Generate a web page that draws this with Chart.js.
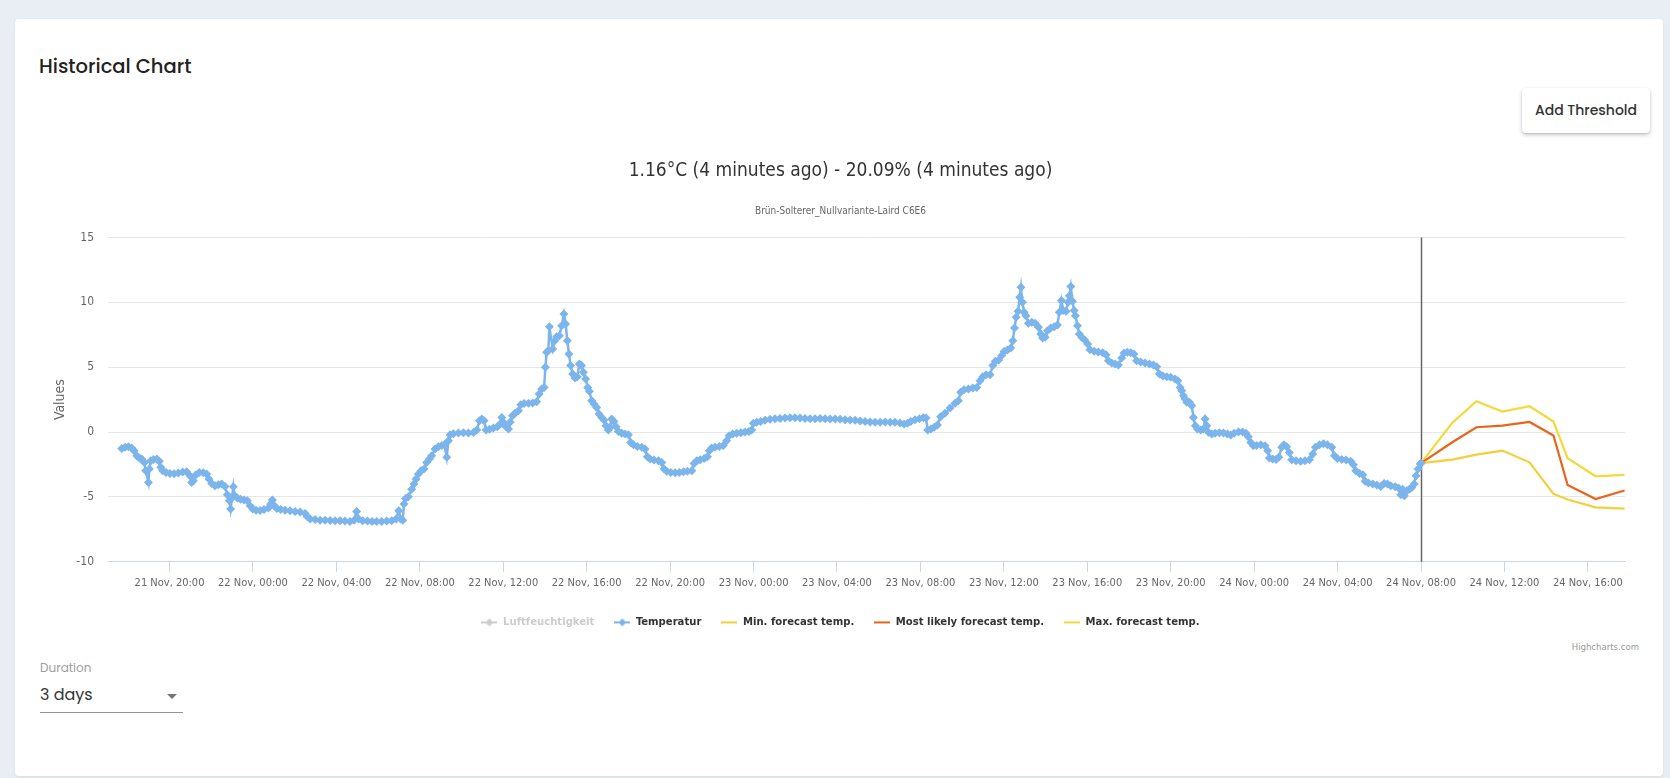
<!DOCTYPE html>
<html>
<head>
<meta charset="utf-8">
<title>Historical Chart</title>
<script src="https://cdn.jsdelivr.net/npm/chart.js@4.4.1/dist/chart.umd.min.js"></script>
<style>
    html, body { margin: 0; padding: 0; }
    body {
        width: 1670px; height: 778px; overflow: hidden; position: relative;
        background: #e8eef3;
        font-family: 'Poppins', 'Open Sans', sans-serif;
    }
    .card {
        position: absolute; left: 15px; top: 19px; width: 1648px; height: 757px;
        background: #fff; border-radius: 4px;
        box-shadow: 0 1px 3px rgba(0, 0, 0, 0.08);
    }
    .card h2 {
        position: absolute; left: 24px; top: 34px; margin: 0;
        font-size: 19.5px; font-weight: 500; color: #222; line-height: 28px;
    }
    .btn {
        position: absolute; left: 1507px; top: 69px; width: 128px; height: 45px;
        background: #fff; border: none; border-radius: 4px;
        box-shadow: 0 2px 4px rgba(0, 0, 0, 0.2), 0 1px 2px rgba(0, 0, 0, 0.1);
        font-family: inherit; font-size: 14px; font-weight: 500; color: #333;
    }
    .chart-box { position: absolute; left: 29px; top: 126px; width: 1604px; height: 493px; }
    .credits {
        position: absolute; right: 24px; top: 622px;
        font-family: 'DejaVu Sans Condensed', sans-serif;
        font-size: 9.5px; color: #999;
    }
    .duration { position: absolute; left: 25px; top: 640px; width: 143px; }
    .duration label { display: block; font-size: 12px; color: #9e9e9e; line-height: 18px; }
    .duration .select {
        position: relative; margin-top: 5px; height: 30px; border-bottom: 1px solid #949494;
        font-size: 16px; color: #333; line-height: 26px;
    }
    .duration .arrow {
        position: absolute; right: 6px; top: 12px; width: 0; height: 0;
        border-left: 5px solid transparent; border-right: 5px solid transparent; border-top: 5px solid #757575;
    }
</style>
</head>
<body>
<div class="card">
    <h2>Historical Chart</h2>
    <button class="btn">Add Threshold</button>
    <div class="chart-box"><canvas id="historyChart"></canvas></div>
    <div class="credits">Highcharts.com</div>
    <div class="duration">
        <label>Duration</label>
        <div class="select">3 days<span class="arrow"></span></div>
    </div>
</div>
<script>
// hours counted from 21 Nov 00:00
const tempHours = [
    17.71, 17.87, 18.03, 18.19, 18.30, 18.43, 18.55, 18.67, 18.79, 18.86,
    18.99, 19.03, 19.10, 19.23, 19.39, 19.51, 19.58, 19.67, 19.83, 20.02,
    20.22, 20.42, 20.63, 20.82, 20.98, 21.06, 21.14, 21.27, 21.43, 21.62,
    21.78, 21.89, 22.02, 22.18, 22.34, 22.50, 22.66, 22.77, 22.87, 22.93,
    23.00, 23.06, 23.12, 23.25, 23.41, 23.57, 23.73, 23.86, 23.99, 24.15,
    24.34, 24.53, 24.74, 24.85, 24.93, 25.03, 25.14, 25.33, 25.54, 25.78,
    26.02, 26.26, 26.50, 26.61, 26.74, 26.98, 27.22, 27.46, 27.70, 27.94,
    28.18, 28.41, 28.65, 28.85, 28.97, 29.07, 29.26, 29.49, 29.71, 29.93,
    30.17, 30.41, 30.65, 30.86, 30.99, 31.08, 31.18, 31.24, 31.32, 31.45,
    31.61, 31.72, 31.82, 31.93, 32.06, 32.20, 32.33, 32.46, 32.57, 32.73,
    32.89, 33.05, 33.18, 33.29, 33.37, 33.45, 33.61, 33.85, 34.09, 34.33,
    34.57, 34.73, 34.86, 34.97, 35.08, 35.18, 35.34, 35.53, 35.72, 35.85,
    35.93, 36.01, 36.13, 36.25, 36.33, 36.44, 36.57, 36.73, 36.84, 37.00,
    37.21, 37.41, 37.60, 37.72, 37.84, 37.96, 38.02, 38.08, 38.16, 38.21,
    38.37, 38.47, 38.56, 38.69, 38.80, 38.91, 38.99, 39.07, 39.15, 39.23,
    39.33, 39.44, 39.55, 39.65, 39.75, 39.84, 39.95, 40.05, 40.13, 40.24,
    40.35, 40.48, 40.59, 40.72, 40.83, 40.93, 41.04, 41.12, 41.20, 41.31,
    41.41, 41.52, 41.68, 41.84, 42.00, 42.11, 42.24, 42.43, 42.64, 42.80,
    42.91, 43.04, 43.23, 43.44, 43.60, 43.71, 43.84, 44.03, 44.24, 44.44,
    44.64, 44.83, 45.04, 45.15, 45.28, 45.44, 45.63, 45.79, 45.88, 45.99,
    46.15, 46.36, 46.55, 46.71, 46.83, 47.00, 47.19, 47.39, 47.59, 47.78,
    47.91, 47.99, 48.15, 48.34, 48.55, 48.79, 49.03, 49.27, 49.51, 49.75,
    49.99, 50.23, 50.47, 50.71, 50.95, 51.19, 51.43, 51.67, 51.91, 52.15,
    52.39, 52.63, 52.87, 53.11, 53.35, 53.59, 53.83, 54.07, 54.31, 54.55,
    54.78, 55.02, 55.22, 55.38, 55.54, 55.74, 55.95, 56.14, 56.27, 56.35,
    56.50, 56.66, 56.82, 56.97, 57.18, 57.42, 57.66, 57.82, 57.93, 58.09,
    58.30, 58.51, 58.70, 58.86, 58.99, 59.15,
    59.34, 59.47, 59.59, 59.75, 59.90, 60.01, 60.17, 60.33, 60.43, 60.51,
    60.59, 60.68, 60.76, 60.82, 60.89, 60.97, 61.06, 61.18, 61.34, 61.50,
    61.66, 61.77, 61.86, 61.98, 62.09, 62.25, 62.41, 62.57, 62.66, 62.76,
    62.85, 62.98, 63.08, 63.14, 63.21, 63.29, 63.37, 63.43, 63.53, 63.62,
    63.73, 63.88, 64.02, 64.13, 64.33, 64.53, 64.74, 64.90, 65.01, 65.17,
    65.33, 65.49, 65.65, 65.76, 65.92, 66.08, 66.24, 66.37, 66.56, 66.77,
    66.98, 67.17, 67.33, 67.46, 67.62, 67.81, 68.00, 68.21, 68.34, 68.45,
    68.53, 68.61, 68.69, 68.77, 68.90, 69.01, 69.09, 69.18, 69.28, 69.44,
    69.57, 69.65, 69.73, 69.82, 69.97, 70.13, 70.33, 70.53, 70.72, 70.88,
    71.04, 71.25, 71.45, 71.61, 71.72, 71.84, 71.96, 72.12, 72.32, 72.52,
    72.65, 72.73, 72.89, 73.05, 73.18, 73.32, 73.43, 73.56, 73.69, 73.80,
    74.01, 74.23, 74.44, 74.65, 74.81, 74.94, 75.13, 75.32, 75.51, 75.72,
    75.85, 75.99, 76.20, 76.41, 76.63, 76.76, 76.87, 77.05, 77.21, 77.32,
    77.48, 77.69, 77.88, 78.07, 78.23, 78.39, 78.55, 78.76, 78.92, 79.03,
    79.12, 79.20, 79.32, 79.44, 79.56, 79.67, 79.76, 79.86, 79.96, 80.00
];
const tempValues = [
    -1.26, -1.18, -1.13, -1.23, -1.44, -1.83, -2.00, -2.08, -2.34, -2.98,
    -3.88, -2.85, -2.21, -2.11, -2.08, -2.26, -2.72, -2.98, -3.11, -3.19,
    -3.21, -3.16, -3.08, -3.06, -3.37, -3.88, -3.75, -3.29, -3.11, -3.14,
    -3.24, -3.62, -3.96, -4.14, -4.06, -4.01, -4.19, -4.83, -5.30, -5.94,
    -5.04, -4.21, -4.91, -5.09, -5.17, -5.24, -5.30, -5.68, -5.94, -6.02,
    -6.04, -5.96, -5.86, -5.55, -5.24, -5.68, -5.89, -5.96, -6.02, -6.07,
    -6.12, -6.17, -6.27, -6.53, -6.71, -6.74, -6.79, -6.79, -6.81, -6.84,
    -6.84, -6.86, -6.89, -6.79, -6.12, -6.71, -6.84, -6.86, -6.89, -6.89,
    -6.89, -6.86, -6.84, -6.71, -6.07, -6.71, -6.79, -5.55, -5.12, -4.99,
    -4.40, -4.01, -3.62, -3.24, -2.98, -2.85, -2.34, -2.08, -1.83, -1.31,
    -1.13, -1.03, -0.98, -1.95, -0.67, -0.21, -0.13, -0.08, -0.05, -0.08,
    -0.03, 0.15, 0.87, 1.00, 0.87, 0.15, 0.21, 0.31, 0.41, 0.62,
    1.13, 0.75, 0.41, 0.23, 0.75, 1.26, 1.44, 1.65, 2.11, 2.19,
    2.21, 2.24, 2.34, 2.93, 3.32, 3.44, 4.99, 6.14, 6.27, 8.12,
    6.40, 7.04, 7.35, 7.43, 8.20, 9.10, 8.33, 7.04, 6.02, 5.12,
    4.47, 4.16, 4.27, 5.24, 5.12, 4.60, 4.09, 3.44, 3.14, 2.42,
    2.16, 1.90, 1.39, 1.13, 0.93, 0.49, 0.15, 0.36, 1.00, 0.82,
    0.41, 0.05, -0.10, -0.15, -0.21, -0.80, -0.98, -1.11, -1.18, -1.31,
    -1.90, -2.08, -2.16, -2.21, -2.34, -2.85, -3.03, -3.11, -3.14, -3.11,
    -3.06, -3.03, -2.98, -2.42, -2.21, -2.13, -2.03, -1.90, -1.44, -1.23,
    -1.18, -1.11, -1.03, -0.67, -0.28, -0.15, -0.10, -0.05, 0.00, 0.05,
    0.15, 0.67, 0.75, 0.82, 0.90, 0.98, 1.03, 1.05, 1.08, 1.11,
    1.11, 1.08, 1.05, 1.03, 1.03, 1.05, 1.03, 1.00, 1.00, 0.98,
    0.95, 0.93, 0.90, 0.85, 0.82, 0.77, 0.75, 0.75, 0.77, 0.75,
    0.75, 0.69, 0.62, 0.67, 0.82, 0.95, 1.03, 1.11, 1.08, 0.15,
    0.23, 0.36, 0.54, 1.18, 1.44, 1.85, 2.21, 2.42, 3.06, 3.26,
    3.32, 3.39, 3.44, 3.96, 4.27, 4.42,
    4.42, 5.12, 5.45, 5.55, 5.89, 6.20, 6.32, 6.48, 7.04, 8.02,
    8.84, 9.31, 10.39, 11.16, 10.00, 9.23, 8.97, 8.38, 8.46, 8.38,
    8.07, 7.56, 7.25, 7.30, 7.81, 8.02, 8.12, 8.25, 9.23, 10.13,
    9.36, 9.31, 10.00, 10.51, 11.21, 10.08, 9.36, 8.97, 8.20, 7.56,
    7.30, 7.10, 6.79, 6.35, 6.22, 6.17, 6.12, 5.96, 5.50, 5.32,
    5.24, 5.17, 5.71, 6.09, 6.14, 6.12, 6.02, 5.50, 5.40, 5.32,
    5.24, 5.17, 5.04, 4.47, 4.32, 4.27, 4.22, 4.09, 3.96, 3.44,
    3.19, 2.80, 2.55, 2.29, 2.29, 2.03, 1.13, 0.49, 0.23, 0.15,
    0.23, 1.00, 0.49, -0.03, -0.15, -0.10, -0.05, -0.08, -0.15, -0.23,
    -0.10, 0.00, 0.00, -0.10, -0.36, -0.80, -1.05, -1.03, -0.98, -1.05,
    -1.44, -2.01, -2.08, -2.11, -1.95, -1.18, -0.98, -1.13, -1.57, -2.13,
    -2.21, -2.26, -2.21, -2.13, -1.70, -1.18, -0.98, -0.90, -0.98, -1.18,
    -1.83, -2.03, -2.11, -2.16, -2.26, -2.52, -2.98, -3.19, -3.29, -3.80,
    -3.93, -4.01, -4.09, -4.19, -3.96, -4.01, -4.14, -4.22, -4.32, -4.83,
    -4.40, -4.91, -4.52, -4.40, -4.27, -4.01, -3.37, -2.85, -2.47, -2.40
];
const humidityValues = [];

const forecastHours = [80.00, 81.50, 82.66, 83.90, 85.20, 86.35, 87.03, 88.37, 89.76];
const forecastMin = [-2.40, -2.12, -1.74, -1.43, -2.33, -4.77, -5.20, -5.80, -5.90];
const forecastLikely = [-2.40, -0.79, 0.37, 0.50, 0.78, -0.27, -4.08, -5.16, -4.51];
const forecastMax = [-2.40, 0.71, 2.38, 1.58, 1.99, 0.81, -2.02, -3.41, -3.30];

const xTickHours = [20, 24, 28, 32, 36, 40, 44, 48, 52, 56, 60, 64, 68, 72, 76, 80, 84, 88];
const xTickLabels = [
    '21 Nov, 20:00', '22 Nov, 00:00', '22 Nov, 04:00', '22 Nov, 08:00', '22 Nov, 12:00',
    '22 Nov, 16:00', '22 Nov, 20:00', '23 Nov, 00:00', '23 Nov, 04:00', '23 Nov, 08:00',
    '23 Nov, 12:00', '23 Nov, 16:00', '23 Nov, 20:00', '24 Nov, 00:00', '24 Nov, 04:00',
    '24 Nov, 08:00', '24 Nov, 12:00', '24 Nov, 16:00'
];
const yTicks = [-10, -5, 0, 5, 10, 15];
const nowHour = 80;

const narrowFont = "'Liberation Sans Narrow', 'DejaVu Sans Condensed', 'Arial Narrow', sans-serif";

const toPoints = (xs, ys) => ys.map((y, i) => ({ x: xs[i], y: y }));

// small legend symbols: a line, optionally with a diamond marker
function legendIcon(color, marker) {
    const c = document.createElement('canvas');
    c.width = 16; c.height = 12;
    const g = c.getContext('2d');
    g.strokeStyle = color;
    g.lineWidth = 2;
    g.beginPath(); g.moveTo(0, 6); g.lineTo(16, 6); g.stroke();
    if (marker) {
        g.fillStyle = color;
        g.beginPath();
        g.moveTo(8, 2); g.lineTo(12, 6); g.lineTo(8, 10); g.lineTo(4, 6);
        g.closePath(); g.fill();
    }
    return c;
}

const nowLine = {
    id: 'nowLine',
    beforeDatasetsDraw(chart) {
        const { ctx, chartArea, scales } = chart;
        const px = Math.round(scales.x.getPixelForValue(nowHour)) + 0.5;
        ctx.save();
        ctx.strokeStyle = '#666666';
        ctx.lineWidth = 1.5;
        ctx.beginPath();
        ctx.moveTo(px, chartArea.top);
        ctx.lineTo(px, chartArea.bottom);
        ctx.stroke();
        ctx.restore();
    }
};

const seriesLine = (label, xs, ys, color) => ({
    label: label,
    data: toPoints(xs, ys),
    borderColor: color,
    backgroundColor: color,
    borderWidth: 2.2,
    pointRadius: 0,
    tension: 0
});

new Chart(document.getElementById('historyChart'), {
    type: 'line',
    data: {
        datasets: [
            {
                label: 'Luftfeuchtigkeit',
                data: toPoints([], humidityValues),
                borderColor: '#cccccc',
                backgroundColor: '#cccccc',
                hidden: true,
                legendMarker: true
            },
            {
                label: 'Temperatur',
                data: toPoints(tempHours, tempValues),
                borderColor: '#7cb5ec',
                backgroundColor: '#7cb5ec',
                borderWidth: 2.5,
                pointStyle: 'rectRot',
                pointRadius: 4.5,
                pointBorderWidth: 0,
                tension: 0,
                legendMarker: true
            },
            seriesLine('Min. forecast temp.', forecastHours, forecastMin, '#f2cf3b'),
            seriesLine('Most likely forecast temp.', forecastHours, forecastLikely, '#e8641c'),
            seriesLine('Max. forecast temp.', forecastHours, forecastMax, '#f5d93c')
        ]
    },
    options: {
        responsive: true,
        maintainAspectRatio: false,
        animation: false,
        layout: { padding: { left: 12, right: 23, top: 0, bottom: 0 } },
        scales: {
            x: {
                type: 'linear',
                min: 17.05,
                max: 89.78,
                afterBuildTicks: s => { s.ticks = xTickHours.map(v => ({ value: v })); },
                afterFit: s => { s.height = 35; },
                ticks: {
                    autoSkip: false,
                    maxRotation: 0,
                    padding: 5,
                    color: '#666666',
                    font: { family: narrowFont, size: 11 },
                    callback: (value, index) => xTickLabels[index]
                },
                grid: { drawOnChartArea: false, drawTicks: true, tickLength: 10, color: '#ccd6eb' },
                border: { color: '#ccd6eb' }
            },
            y: {
                min: -10,
                max: 15,
                afterBuildTicks: s => { s.ticks = yTicks.map(v => ({ value: v })); },
                afterFit: s => { s.width = 52; },
                ticks: {
                    padding: 14,
                    color: '#666666',
                    font: { family: narrowFont, size: 12 }
                },
                grid: { color: '#e6e6e6', drawTicks: false },
                border: { display: false },
                title: {
                    display: true,
                    text: 'Values',
                    color: '#666666',
                    font: { family: narrowFont, size: 14, lineHeight: 0.6 },
                    padding: { top: 0, bottom: 0 }
                }
            }
        },
        plugins: {
            title: {
                display: true,
                text: '1.16°C (4 minutes ago) - 20.09% (4 minutes ago)',
                color: '#333333',
                font: { family: narrowFont, size: 19, weight: 'normal' },
                padding: { top: 15, bottom: 0 }
            },
            subtitle: {
                display: true,
                text: 'Brün-Solterer_Nullvariante-Laird C6E6',
                color: '#666666',
                font: { family: narrowFont, size: 10 },
                padding: { top: 22.6, bottom: 20 }
            },
            legend: {
                position: 'bottom',
                labels: {
                    usePointStyle: true,
                    pointStyleWidth: 16,
                    padding: 20,
                    color: '#333333',
                    font: { family: narrowFont, size: 11.2, weight: 'bold' },
                    generateLabels: chart => chart.data.datasets.map((ds, i) => {
                        const visible = chart.isDatasetVisible(i);
                        return {
                            text: ds.label,
                            datasetIndex: i,
                            hidden: false,
                            fontColor: visible ? '#333333' : '#cccccc',
                            pointStyle: legendIcon(ds.borderColor, ds.legendMarker),
                            lineWidth: 0,
                            strokeStyle: 'rgba(0,0,0,0)',
                            fillStyle: 'rgba(0,0,0,0)'
                        };
                    })
                }
            },
            tooltip: { enabled: false }
        }
    },
    plugins: [nowLine]
});
</script>
</body>
</html>
